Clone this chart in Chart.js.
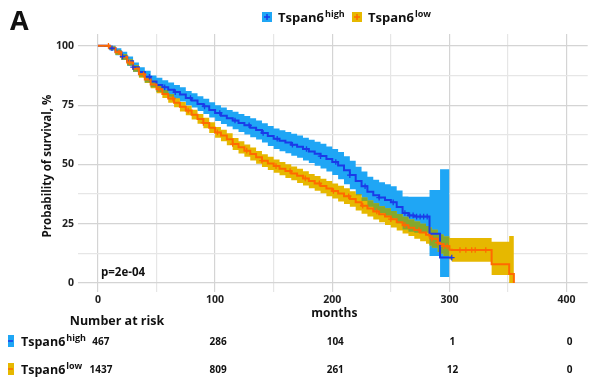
<!DOCTYPE html>
<html>
<head>
<meta charset="utf-8">
<script src="https://cdn.jsdelivr.net/npm/chart.js@4.4.1/dist/chart.umd.min.js"></script>
<style>
  html, body { margin: 0; padding: 0; background: #fff; }
  #wrap { position: relative; width: 593px; height: 379px; }
</style>
</head>
<body>
<div id="wrap"><canvas id="kmChart" width="593" height="379"></canvas></div>
<script>
// months grid shared by all curves (Kaplan-Meier steps)
const months = [0, 5, 10, 15, 20, 25, 30, 35, 40, 45, 50, 55, 60, 65, 70, 75, 80, 85, 90, 95,
  100, 105, 110, 115, 120, 125, 130, 135, 140, 145, 150, 155, 160, 165, 170, 175, 180, 185, 190, 195,
  200, 205, 210, 215, 220, 225, 230, 235, 240, 245, 250, 255, 260, 265, 270, 275, 280,
  283, 285, 290, 292, 295, 300, 302, 336, 351, 355];

// Tspan6 high
const highSurv = [100, 100, 99, 97.5, 95.5, 93.5, 91, 89, 87, 85, 83.5, 82.5, 81.5, 80.5, 79.5, 78, 77, 75.5, 74.5, 73,
  71.7, 70.5, 69.5, 68.5, 67.5, 66.5, 65.5, 64.5, 63.3, 62, 60.8, 60, 59.2, 58.3, 57.5, 56.5, 55.5, 54.5, 53.5, 52.3,
  51, 49.5, 47.5, 45.5, 43, 40.8, 38.5, 37, 36, 35, 34, 32, 29.5, 28.5, 28, 28, 28,
  20.8, 20.8, 20.8, 10.7, 10.7, 10.7, 10.7, null, null, null];
const highLower = [100, 99.5, 98, 96, 94, 91.5, 89, 87, 84.5, 82.5, 80.5, 79.5, 78.5, 77.5, 76.5, 75, 74, 72.5, 71.3, 69.8,
  68.3, 67, 66, 64.8, 63.7, 62.6, 61.5, 60.5, 59.2, 57.8, 56.5, 55.6, 54.7, 53.7, 52.8, 51.7, 50.6, 49.4, 48.3, 47,
  45.5, 43.8, 41.6, 39.5, 37, 34.6, 32.2, 30.6, 29.5, 28.4, 27.2, 25.2, 22.6, 21.6, 21.2, 21.2, 21.2,
  11.4, 11.4, 11.4, 2.5, 2.5, 2.5, null, null, null, null];
const highUpper = [100, 100, 100, 99, 97.5, 95.5, 93, 91, 89.5, 87.5, 86.5, 85.5, 84.5, 83.5, 82.5, 81, 80, 78.7, 77.7, 76.2,
  75, 74, 73, 72.2, 71.3, 70.4, 69.5, 68.5, 67.4, 66.2, 65.1, 64.4, 63.7, 62.9, 62.2, 61.3, 60.4, 59.6, 58.7, 57.6,
  56.5, 55.2, 53.4, 51.5, 49, 47, 44.8, 43.5, 42.5, 41.6, 40.8, 39, 36.5, 36.4, 36.4, 36.4, 36.4,
  39.2, 39.2, 39.2, 48, 48, 48, null, null, null, null];

// Tspan6 low
const lowSurv = [100, 100, 99, 97.3, 95.3, 93, 90.5, 88, 85.8, 83.7, 81.7, 79.7, 77.8, 76, 74.3, 72.7, 71, 69.2, 67.5, 65.5,
  63.5, 62.2, 60.6, 58.6, 57.2, 55.8, 54.4, 53, 51.6, 50.4, 49.3, 48.2, 47.2, 46.2, 45.2, 44.1, 43, 42, 40.9, 39.8,
  38.8, 37.7, 36.6, 35.4, 34, 32.6, 31.4, 30.2, 29, 28, 26.9, 25.6, 24.4, 23.3, 22.3, 21.3, 20.3,
  19.6, 18.7, 17, 16.4, 15.5, 14, 13.9, 7.9, 3.8, 0];
const lowLower = [100, 99.7, 98.3, 96.3, 94.1, 91.8, 89.2, 86.6, 84.3, 82.1, 80, 78, 76, 74.1, 72.3, 70.7, 68.9, 67.1, 65.3, 63.2,
  61.2, 59.8, 58.1, 56.1, 54.6, 53.2, 51.7, 50.3, 48.9, 47.6, 46.5, 45.4, 44.3, 43.3, 42.2, 41.1, 40, 38.9, 37.8, 36.6,
  35.6, 34.4, 33.3, 32.1, 30.6, 29.2, 28, 26.8, 25.6, 24.5, 23.4, 22.1, 20.9, 19.8, 18.7, 17.6, 16.6,
  15.8, 14.9, 13.1, 12.4, 11.4, 9.8, 9, 3.4, 0, 0];
const lowUpper = [100, 100, 99.7, 98.3, 96.5, 94.2, 91.8, 89.4, 87.3, 85.3, 83.4, 81.4, 79.6, 77.9, 76.3, 74.7, 73.1, 71.3, 69.7, 67.8,
  65.8, 64.6, 63.1, 61.1, 59.8, 58.4, 57.1, 55.7, 54.3, 53.2, 52.1, 51, 50.1, 49.1, 48.2, 47.1, 46, 45.1, 44, 43,
  42, 41, 39.9, 38.7, 37.4, 36, 34.8, 33.6, 32.4, 31.5, 30.4, 29.1, 27.9, 26.8, 25.9, 25, 24,
  23.4, 22.5, 20.9, 20.4, 19.6, 19, 19, 17.4, 19.8, 19.8];

// censored observations (months)
const highCensor = [12, 21, 30, 44, 57, 66, 79, 91, 104, 117, 129, 141, 153, 166, 178, 190, 203, 215, 228, 240, 252,
  262, 266, 269, 272, 275, 278, 281, 302];
const lowCensor = [9, 18, 27, 39, 52, 64, 77, 90, 102, 115, 127, 140, 152, 164, 177, 189, 201, 214, 226, 238, 250,
  262, 274, 285, 290, 295, 298, 309, 314, 319, 322, 331];

// number at risk table
const riskTimes = [0, 100, 200, 300, 400];
const highRisk = [467, 286, 104, 1, 0];
const lowRisk = [1437, 809, 261, 12, 0];

const xTicks = [0, 50, 100, 150, 200, 250, 300, 350, 400];
const yTicks = [0, 12.5, 25, 37.5, 50, 62.5, 75, 87.5, 100];

const BLUE_BAND = "#1fa6f5";
const BLUE_LINE = "#1b3be8";
const ORANGE_BAND = "#e6b800";
const ORANGE_LINE = "#ff6a00";
const OVERLAP = "#84a82c";
const FONT = "'Open Sans'";

function pts(values) {
    return months.map((m, i) => ({ x: m, y: values[i] }));
}

function survAt(values, t) {
    let v = null;
    months.forEach((m, i) => {
        if (m <= t && values[i] != null) v = values[i];
    });
    return v;
}

// where the two confidence bands overlap
const overlapLower = months.map((m, i) => {
    if ([highLower[i], highUpper[i], lowLower[i], lowUpper[i]].some(v => v == null)) return null;
    const lo = Math.max(highLower[i], lowLower[i]);
    const hi = Math.min(highUpper[i], lowUpper[i]);
    return hi > lo ? lo : null;
});
const overlapUpper = months.map((m, i) => {
    if (overlapLower[i] == null) return null;
    return Math.min(highUpper[i], lowUpper[i]);
});

function band(values, color, fillTarget, order) {
    return {
        data: pts(values),
        borderColor: "transparent",
        borderWidth: 0,
        backgroundColor: color,
        pointRadius: 0,
        stepped: true,
        fill: fillTarget,
        order: order,
    };
}

function censor(list, values, color, order) {
    return {
        data: list.map(t => ({ x: t, y: survAt(values, t) })),
        showLine: false,
        pointStyle: "cross",
        pointRadius: 2.8,
        borderWidth: 1.3,
        borderColor: color,
        backgroundColor: color,
        order: order,
    };
}

function superLabel(ctx, x, y, main, sup, size) {
    ctx.font = "bold " + size + "px " + FONT;
    ctx.fillText(main, x, y);
    const w = ctx.measureText(main).width;
    ctx.font = "bold " + Math.round(size * 0.7) + "px " + FONT;
    ctx.fillText(sup, x + w + 1, y - size * 0.42);
}

const extras = {
    id: "extras",
    afterDraw(chart) {
        const ctx = chart.ctx;
        const xs = chart.scales.x;
        ctx.save();
        ctx.fillStyle = "#111";
        ctx.textBaseline = "alphabetic";
        ctx.textAlign = "left";

        ctx.font = "bold 27px " + FONT;
        ctx.fillText("A", 10, 30);

        // legend
        [[262, BLUE_BAND, BLUE_LINE, "high"], [352, ORANGE_BAND, ORANGE_LINE, "low"]].forEach(([x, band, line, sup]) => {
            ctx.fillStyle = band;
            ctx.fillRect(x, 12, 10, 10);
            ctx.strokeStyle = line;
            ctx.lineWidth = 1.5;
            ctx.beginPath();
            ctx.moveTo(x + 2, 17); ctx.lineTo(x + 8, 17);
            ctx.moveTo(x + 5, 14); ctx.lineTo(x + 5, 20);
            ctx.stroke();
            ctx.fillStyle = "#111";
            superLabel(ctx, x + 16, 22, "Tspan6", sup, 13);
        });

        ctx.font = "bold 11.5px " + FONT;
        ctx.fillText("p=2e-04", 101, 276);

        // y title
        ctx.save();
        ctx.translate(51, 166);
        ctx.rotate(-Math.PI / 2);
        ctx.textAlign = "center";
        ctx.font = "bold 11.5px " + FONT;
        ctx.fillText("Probability of survival, %", 0, 0);
        ctx.restore();

        ctx.textAlign = "center";
        ctx.font = "bold 12px " + FONT;
        ctx.fillText("months", xs.getPixelForValue(200) + 2, 317);
        ctx.font = "bold 12.5px " + FONT;
        ctx.fillText("Number at risk", 117, 325);

        // risk table rows
        [[341, BLUE_BAND, BLUE_LINE, "high", highRisk], [369, ORANGE_BAND, ORANGE_LINE, "low", lowRisk]].forEach(([y, band, line, sup, risk]) => {
            ctx.fillStyle = band;
            ctx.fillRect(8, y - 6, 6, 12);
            ctx.strokeStyle = line;
            ctx.lineWidth = 1.5;
            ctx.beginPath();
            ctx.moveTo(8, y); ctx.lineTo(13, y);
            ctx.stroke();
            ctx.fillStyle = "#111";
            ctx.textAlign = "left";
            superLabel(ctx, 21, y + 5, "Tspan6", sup, 12.5);
            ctx.textAlign = "center";
            ctx.font = "bold 10px " + FONT;
            riskTimes.forEach((t, i) => {
                ctx.fillText(String(risk[i]), xs.getPixelForValue(t) + 3, y + 4);
            });
        });
        ctx.restore();
    },
};

const kmChart = new Chart(document.getElementById("kmChart"), {
    type: "line",
    data: {
        datasets: [
            band(highLower, BLUE_BAND, false, 9),
            band(highUpper, BLUE_BAND, 0, 8),
            band(lowLower, ORANGE_BAND, false, 7),
            band(lowUpper, ORANGE_BAND, 2, 6),
            band(overlapLower, OVERLAP, false, 5),
            band(overlapUpper, OVERLAP, 4, 4),
            {
                data: pts(highSurv),
                borderColor: BLUE_LINE,
                borderWidth: 2,
                pointRadius: 0,
                stepped: true,
                fill: false,
                order: 3,
            },
            {
                data: pts(lowSurv),
                borderColor: ORANGE_LINE,
                borderWidth: 2,
                pointRadius: 0,
                stepped: true,
                fill: false,
                order: 2,
            },
            censor(highCensor, highSurv, BLUE_LINE, 1),
            censor(lowCensor, lowSurv, ORANGE_LINE, 0),
        ],
    },
    options: {
        responsive: false,
        animation: false,
        devicePixelRatio: 1,
        layout: { padding: { top: 34, left: 0, right: 0, bottom: 0 } },
        plugins: {
            legend: { display: false },
            tooltip: { enabled: false },
        },
        scales: {
            x: {
                type: "linear",
                min: -17,
                max: 418,
                afterBuildTicks: (scale) => { scale.ticks = xTicks.map(v => ({ value: v })); },
                afterFit: (scale) => { scale.height = 87; },
                border: { display: false },
                grid: {
                    drawTicks: false,
                    lineWidth: 1.2,
                    color: (c) => (c.tick && c.tick.value % 100 === 0 ? "#d4d4d4" : "#e6e6e6"),
                },
                ticks: {
                    autoSkip: false,
                    maxRotation: 0,
                    padding: 2,
                    color: "#222",
                    font: { family: FONT, weight: "bold", size: 10.5 },
                    callback: (v) => (v % 100 === 0 ? v : ""),
                },
            },
            y: {
                min: -3.8,
                max: 105,
                afterBuildTicks: (scale) => { scale.ticks = yTicks.map(v => ({ value: v })); },
                afterFit: (scale) => { scale.width = 78; },
                border: { display: false },
                grid: {
                    drawTicks: false,
                    lineWidth: 1.2,
                    color: (c) => (c.tick && c.tick.value % 25 === 0 ? "#d4d4d4" : "#e6e6e6"),
                },
                ticks: {
                    autoSkip: false,
                    padding: 4,
                    color: "#222",
                    font: { family: FONT, weight: "bold", size: 10.5 },
                    callback: (v) => (v % 25 === 0 ? v : ""),
                },
            },
        },
    },
    plugins: [extras],
});
</script>
</body>
</html>
